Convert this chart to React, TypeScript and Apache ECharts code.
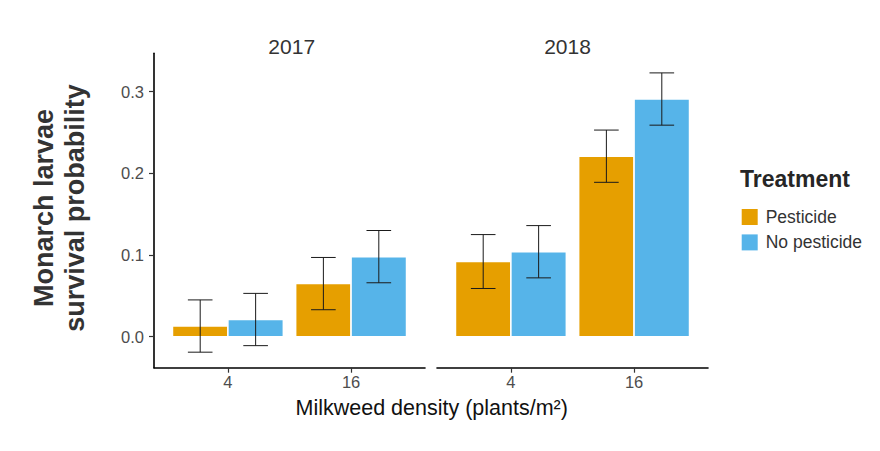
import React, { useEffect, useRef } from "react";
import * as echarts from "echarts";

const densities = ["4", "16"];
const years = ["2017", "2018"];
const treatments = ["Pesticide", "No pesticide"];
const treatmentColors = ["#E69F00", "#56B4E9"];

// survival probability (mean) and standard error, by density [4, 16]
const pesticideMean2017 = [0.013, 0.065];
const pesticideSe2017 = [0.032, 0.032];
const noPesticideMean2017 = [0.021, 0.098];
const noPesticideSe2017 = [0.032, 0.032];
const pesticideMean2018 = [0.092, 0.221];
const pesticideSe2018 = [0.033, 0.032];
const noPesticideMean2018 = [0.104, 0.291];
const noPesticideSe2018 = [0.032, 0.032];

const yTicks = [0, 0.1, 0.2, 0.3];

const FONT = "Liberation Sans, Arial, sans-serif";
const BAR_HALF = 0.225;
const WHISKER_HALF = 0.1;

const makeSeries = (
  name: string,
  color: string,
  yearIdx: number,
  means: number[],
  ses: number[],
  side: number
) => ({
  type: "custom",
  name,
  xAxisIndex: yearIdx,
  yAxisIndex: yearIdx,
  itemStyle: { color },
  encode: { x: 0, y: 1 },
  data: means.map((m, i) => [i + 1, m, ses[i]]),
  renderItem: (_params: any, api: any) => {
    const cx = api.value(0) + side * BAR_HALF;
    const mean = api.value(1);
    const se = api.value(2);
    const [xl, y0] = api.coord([cx - BAR_HALF, 0]);
    const [xr, yTop] = api.coord([cx + BAR_HALF, mean]);
    const [xc, yHi] = api.coord([cx, mean + se]);
    const [, yLo] = api.coord([cx, mean - se]);
    const [wl] = api.coord([cx - WHISKER_HALF, 0]);
    const [wr] = api.coord([cx + WHISKER_HALF, 0]);
    const errStyle = { stroke: "#1a1a1a", lineWidth: 1 };
    return {
      type: "group",
      children: [
        {
          type: "rect",
          shape: { x: xl, y: yTop, width: xr - xl, height: y0 - yTop },
          style: { fill: color, stroke: "#ffffff", lineWidth: 1.5 },
        },
        { type: "line", shape: { x1: xc, y1: yHi, x2: xc, y2: yLo }, style: errStyle },
        { type: "line", shape: { x1: wl, y1: yHi, x2: wr, y2: yHi }, style: errStyle },
        { type: "line", shape: { x1: wl, y1: yLo, x2: wr, y2: yLo }, style: errStyle },
      ],
    };
  },
});

const xAxisFor = (gridIndex: number) => ({
  type: "value",
  gridIndex,
  min: 0.4,
  max: 2.6,
  splitLine: { show: false },
  axisLine: { show: true, onZero: false, lineStyle: { color: "#000", width: 1.6 } },
  axisTick: {
    show: true,
    customValues: [1, 2],
    length: 5,
    lineStyle: { color: "#333", width: 1.2 },
  },
  axisLabel: {
    customValues: [1, 2],
    formatter: (v: number) => densities[Math.round(v) - 1],
    color: "#4D4D4D",
    fontSize: 16.5,
    fontFamily: FONT,
    margin: 6,
  },
});

const yAxisFor = (gridIndex: number, visible: boolean) => ({
  type: "value",
  gridIndex,
  min: -0.038,
  max: 0.347,
  show: visible,
  splitLine: { show: false },
  axisLine: { show: true, onZero: false, lineStyle: { color: "#000", width: 1.6 } },
  axisTick: {
    show: true,
    customValues: yTicks,
    length: 5,
    lineStyle: { color: "#333", width: 1.2 },
  },
  axisLabel: {
    customValues: yTicks,
    formatter: (v: number) => v.toFixed(1),
    color: "#4D4D4D",
    fontSize: 16.5,
    fontFamily: FONT,
    margin: 10,
  },
});

const App: React.FC = () => {
  const chartRef = useRef<HTMLDivElement | null>(null);

  useEffect(() => {
    document.body.style.margin = "0";
    if (!chartRef.current) return;
    const chart = echarts.init(chartRef.current, null, { renderer: "svg" });

    const options: any = {
      animation: false,
      backgroundColor: "#ffffff",
      grid: [
        { left: 154, top: 53.3, width: 271, height: 314.4 },
        { left: 437, top: 53.3, width: 271, height: 314.4 },
      ],
      xAxis: [xAxisFor(0), xAxisFor(1)],
      yAxis: [yAxisFor(0, true), yAxisFor(1, false)],
      legend: {
        data: treatments,
        orient: "vertical",
        left: 741.7,
        top: 208,
        padding: 0,
        itemWidth: 16,
        itemHeight: 16,
        itemGap: 7.4,
        icon: "rect",
        textStyle: {
          fontSize: 17.5,
          fontFamily: FONT,
          color: "#333",
          padding: [0, 0, 0, 3],
        },
      },
      graphic: [
        {
          type: "text",
          x: 291.7,
          y: 46.7,
          style: {
            text: years[0],
            align: "center",
            verticalAlign: "middle",
            font: `21px ${FONT}`,
            fill: "#333",
          },
        },
        {
          type: "text",
          x: 567.5,
          y: 46.7,
          style: {
            text: years[1],
            align: "center",
            verticalAlign: "middle",
            font: `21px ${FONT}`,
            fill: "#333",
          },
        },
        {
          type: "text",
          x: 431.7,
          y: 408.3,
          style: {
            text: "Milkweed density (plants/m²)",
            align: "center",
            verticalAlign: "middle",
            font: `21.5px ${FONT}`,
            fill: "#111",
          },
        },
        {
          type: "text",
          x: 59,
          y: 208,
          rotation: Math.PI / 2,
          style: {
            text: "Monarch larvae\nsurvival probability",
            align: "center",
            verticalAlign: "middle",
            font: `bold 27px ${FONT}`,
            lineHeight: 31,
            fill: "#333",
          },
        },
        {
          type: "text",
          x: 740,
          y: 179,
          style: {
            text: "Treatment",
            align: "left",
            verticalAlign: "middle",
            font: `bold 23px ${FONT}`,
            fill: "#262626",
          },
        },
      ],
      series: [
        makeSeries(treatments[0], treatmentColors[0], 0, pesticideMean2017, pesticideSe2017, -1),
        makeSeries(treatments[1], treatmentColors[1], 0, noPesticideMean2017, noPesticideSe2017, 1),
        makeSeries(treatments[0], treatmentColors[0], 1, pesticideMean2018, pesticideSe2018, -1),
        makeSeries(treatments[1], treatmentColors[1], 1, noPesticideMean2018, noPesticideSe2018, 1),
      ],
    };

    chart.setOption(options);
    return () => chart.dispose();
  }, []);

  return <div ref={chartRef} style={{ width: "880px", height: "451px" }} />;
};

export default App;
